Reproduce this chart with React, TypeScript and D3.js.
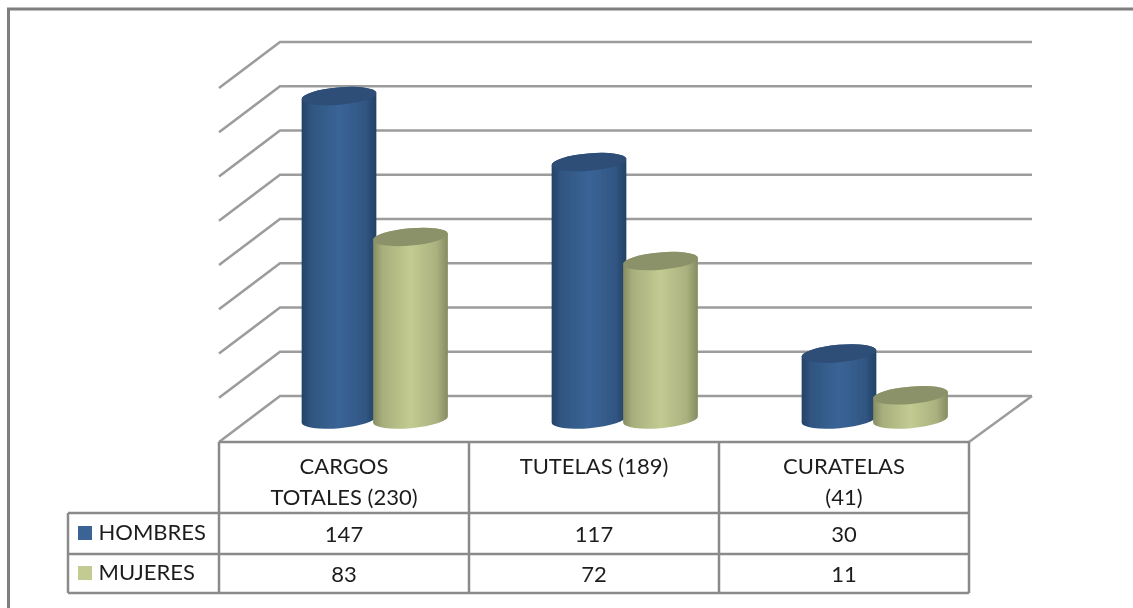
import React from "react";
import * as d3 from "d3";

const categories = ["CARGOS\nTOTALES (230)", "TUTELAS (189)", "CURATELAS\n(41)"];
const seriesNames = ["HOMBRES", "MUJERES"];
const hombres = [147, 117, 30];
const mujeres = [83, 72, 11];
const gridValues = [0, 20, 40, 60, 80, 100, 120, 140, 160];
const seriesColors = ["#3a6496", "#c3cb92"];
const seriesTops = ["#2d4d77", "#8b9169"];
const seriesEdges = ["#234266", "#858b60"];

const FONT = "Lato, 'Open Sans', sans-serif";
const GRID = "#9c9c9c";
const TILT = -5;

export default function App() {
  const frontLeft = 219, frontRight = 969;
  const dx = 61, dy = -46;
  const floorFront = 442;
  const x = d3.scaleBand<number>().domain([0, 1, 2]).range([frontLeft, frontRight]);
  const y = d3.scaleLinear().domain([0, 160]).range([floorFront, floorFront - 354]);
  const values = [hombres, mujeres];
  const rx = 37.5, ry = 8.7;
  const barBase = 419.5;
  const barH = d3.scaleLinear().domain([0, 160]).range([0, 352]);
  const rows = [513, 554, 593];
  const tableLeft = 68;
  const colEdges = [frontLeft, ...categories.map((_, i) => x(i)! + x.bandwidth())];
  const rad = (TILT * Math.PI) / 180;
  const ex = rx * Math.cos(rad), ey = -rx * Math.sin(rad);

  const cyl = (cx: number, base: number, v: number) => {
    const top = base - barH(v);
    return `M${cx - ex},${top + ey} L${cx - ex},${base + ey} A${rx},${ry} ${TILT} 0 0 ${cx + ex},${base - ey} L${cx + ex},${top - ey} A${rx},${ry} ${TILT} 0 0 ${cx - ex},${top + ey} Z`;
  };

  return (
    <svg width={1133} height={608} style={{ position: "absolute", left: 0, top: 0, background: "#fff" }} fontFamily={FONT}>
      <defs>
        {seriesColors.map((c, i) => (
          <linearGradient id={`g${i}`} key={c} x1="0" x2="1" y1="0" y2="0">
            <stop offset="0" stopColor={seriesEdges[i]} />
            <stop offset="0.12" stopColor={d3.interpolateRgb(seriesEdges[i], c)(0.55)} />
            <stop offset="0.5" stopColor={c} />
            <stop offset="0.85" stopColor={d3.interpolateRgb(seriesEdges[i], c)(0.6)} />
            <stop offset="1" stopColor={seriesEdges[i]} />
          </linearGradient>
        ))}
        <filter id="soft" x="-5%" y="-5%" width="110%" height="110%">
          <feGaussianBlur stdDeviation="0.6" />
        </filter>
      </defs>
      <g filter="url(#soft)">
        <path d="M8.5,620 V9 H1150" fill="none" stroke="#7f7f7f" strokeWidth={3} />
        {gridValues.map((v) => (
          <path key={v} d={`M${frontLeft},${y(v)} L${frontLeft + dx},${y(v) + dy} H${frontRight + dx + 2}`} fill="none" stroke={GRID} strokeWidth={2.5} />
        ))}
        <path d={`M${frontRight},${floorFront} L${frontRight + dx + 2},${floorFront + dy}`} stroke={GRID} strokeWidth={2.5} />
        {categories.map((_, i) =>
          values.map((s, j) => {
            const cx = x(i)! + 120 + (j === 0 ? 0 : 71.5);
            const top = barBase - barH(s[i]);
            return (
              <g key={`${i}-${j}`}>
                <path d={cyl(cx, barBase, s[i])} fill={`url(#g${j})`} />
                <ellipse cx={cx} cy={top} rx={rx} ry={ry} transform={`rotate(${TILT} ${cx} ${top})`} fill={seriesTops[j]} />
              </g>
            );
          })
        )}
        <g stroke="#8a8a8a" strokeWidth={2.5} fill="none">
          <path d={`M${frontLeft},${floorFront} H${frontRight}`} />
          {colEdges.map((e, i) => <path key={i} d={`M${e},${floorFront} V${rows[2]}`} />)}
          {rows.map((r) => <path key={r} d={`M${tableLeft},${r} H${frontRight}`} />)}
          <path d={`M${tableLeft},${rows[0]} V${rows[2]}`} />
        </g>
        <g fontSize={22} fill="#1f1f1f" textAnchor="middle">
          {categories.map((c, i) => {
            const cx = x(i)! + x.bandwidth() / 2;
            return (
              <text key={c} x={cx}>
                {c.split("\n").map((line, k) => (
                  <tspan key={k} x={cx} y={474 + k * 31}>{line}</tspan>
                ))}
              </text>
            );
          })}
          {values.map((s, j) =>
            s.map((v, i) => (
              <text key={`${j}-${i}`} x={x(i)! + x.bandwidth() / 2} y={rows[j] + 29 - j}>{v}</text>
            ))
          )}
        </g>
        {seriesNames.map((n, j) => (
          <g key={n}>
            <rect x={78} y={rows[j] + 13 - j} width={14} height={14} fill={seriesColors[j]} />
            <text x={98.5} y={rows[j] + 27 - j} fontSize={22} fill="#1f1f1f">{n}</text>
          </g>
        ))}
      </g>
    </svg>
  );
}
